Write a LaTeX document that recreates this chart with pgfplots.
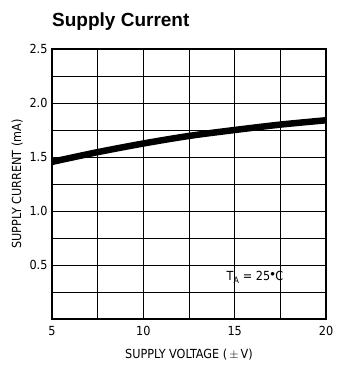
\documentclass[border=0pt]{standalone}
\usepackage{fontspec}
\setmainfont{Liberation Sans}
\newfontfamily\condfont{DejaVu Sans Condensed}
\usepackage{pgfplots}
\pgfplotsset{compat=1.18}

\begin{document}
\begin{tikzpicture}
  \begin{axis}[
    name=ax,
    scale only axis,
    width=274pt,height=270pt,
    xmin=5,xmax=20,ymin=0,ymax=2.5,
    xtick={5,10,15,20},
    ytick={0.5,1.0,1.5,2.0,2.5},
    yticklabels={0.5,1.0,1.5,2.0,2.5},
    minor xtick={7.5,12.5,17.5},
    minor ytick={0.25,0.75,1.25,1.75,2.25},
    grid=both,
    major grid style={black,line width=0.9pt},
    minor grid style={black,line width=0.9pt},
    major tick length=0pt,minor tick length=0pt,
    axis line style={black,line width=1.1pt},
    tick label style={font=\condfont\fontsize{12.5pt}{12.5pt}\selectfont},
    /pgf/number format/assume math mode=true,
    xticklabel style={yshift=-4pt},
    yticklabel style={xshift=-1pt},
    xlabel={SUPPLY VOLTAGE (\,$\pm$\,V)},
    ylabel={SUPPLY CURRENT (mA)},
    label style={font=\condfont\fontsize{12.5pt}{12.5pt}\selectfont},
    xlabel style={yshift=-6pt},
    ylabel style={yshift=0pt},
  ]
  \addplot[black,line width=6.5pt,smooth] coordinates {
    (5,1.455) (7.5,1.545) (10,1.625) (12.5,1.695) (15,1.75) (17.5,1.80) (20,1.84)};
  \node[anchor=west,font=\condfont\fontsize{12.5pt}{12.5pt}\selectfont,inner sep=0pt]
    at (axis cs:14.55,0.385) {T\textsubscript{A} = 25\textsuperscript{$\bullet$}C};
  \end{axis}
  \node[anchor=base west,font=\bfseries\fontsize{19pt}{19pt}\selectfont,inner sep=0pt]
    at ([yshift=22pt]ax.north west) {Supply Current};
  \useasboundingbox ([shift={(-52pt,-47pt)}]ax.south west) rectangle ([shift={(279pt,319pt)}]ax.south west);
\end{tikzpicture}
\end{document}
